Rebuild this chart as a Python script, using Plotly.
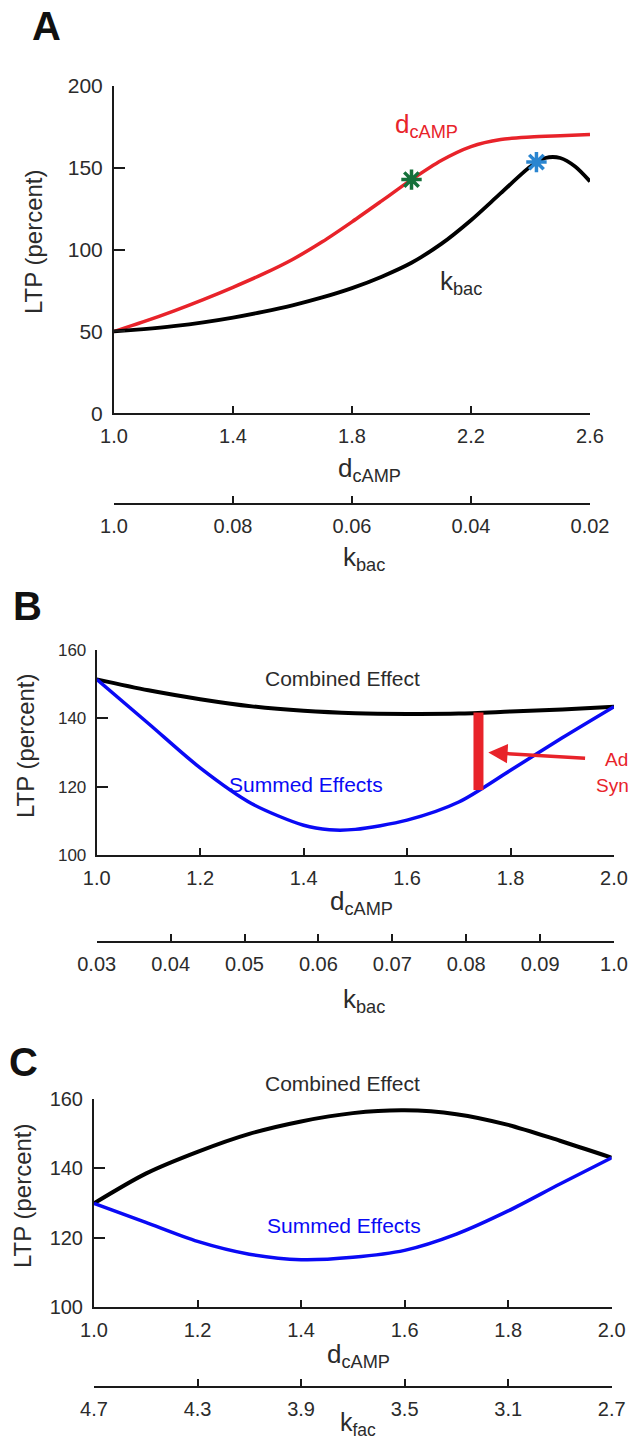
import plotly.graph_objects as go

W, H = 628, 1441
FONT = "Liberation Sans, Arial, sans-serif"
RED = "#e8232a"
BLUE = "#0a0af5"
TXT = "#2b2b2b"

# ---------------- data ----------------
# Panel A: LTP vs d_cAMP (red) and vs k_bac (black)
a_dcamp = [1.0, 1.1, 1.2, 1.3, 1.4, 1.5, 1.6, 1.7, 1.8, 1.9, 2.0, 2.1, 2.2, 2.3, 2.4, 2.5, 2.6]
a_ltp_dcamp = [50, 56, 62.5, 69.5, 77, 85, 94, 104.8, 117, 129.8, 142.8, 154.5, 163, 167.3, 168.8, 169.6, 170.3]
a_kbac = [0.100, 0.095, 0.090, 0.085, 0.080, 0.075, 0.070, 0.065, 0.060, 0.055, 0.050, 0.045,
          0.040, 0.035, 0.030, 0.0275, 0.025, 0.0225, 0.020]
a_ltp_kbac = [50, 51.5, 53.3, 55.6, 58.5, 62, 66, 70.8, 76.5, 83.5, 92, 103.5,
              118, 134.5, 150.8, 156, 156, 150.8, 141.7]
a_star_green = (2.0, 142.8)
a_star_blue = (0.029, 153.5)
a_x_ticks = [1.0, 1.4, 1.8, 2.2, 2.6]
a_y_ticks = [0, 50, 100, 150, 200]
a_kbac_ticks = [0.10, 0.08, 0.06, 0.04, 0.02]
a_kbac_labels = ["1.0", "0.08", "0.06", "0.04", "0.02"]

# Panel B
b_dcamp_comb = [1.0, 1.1, 1.2, 1.3, 1.4, 1.5, 1.6, 1.7, 1.8, 1.9, 2.0]
b_combined = [151.4, 148.2, 145.6, 143.5, 142.2, 141.5, 141.3, 141.4, 142.0, 142.6, 143.4]
b_dcamp_sum = [1.0, 1.1, 1.2, 1.3, 1.4, 1.45, 1.5, 1.6, 1.7, 1.8, 1.9, 2.0]
b_summed = [151.4, 138.5, 125.5, 115, 108.7, 107.4, 107.5, 110.2, 115.5, 124.8, 134.3, 143.4]
b_synergy_x = 1.738
b_synergy_range = (141.7, 119.0)
b_x_ticks = [1.0, 1.2, 1.4, 1.6, 1.8, 2.0]
b_y_ticks = [100, 120, 140, 160]
b_kbac_ticks = [0.03, 0.04, 0.05, 0.06, 0.07, 0.08, 0.09, 0.10]
b_kbac_labels = ["0.03", "0.04", "0.05", "0.06", "0.07", "0.08", "0.09", "1.0"]

# Panel C
c_dcamp = [1.0, 1.1, 1.2, 1.3, 1.4, 1.5, 1.6, 1.7, 1.8, 1.9, 2.0]
c_combined = [129.9, 138.5, 144.8, 150, 153.6, 156, 156.8, 155.7, 152.6, 148, 143.1]
c_dcamp_sum = [1.0, 1.1, 1.2, 1.3, 1.4, 1.5, 1.6, 1.7, 1.8, 1.9, 2.0]
c_summed = [129.9, 124.4, 118.9, 115.2, 113.6, 114.3, 116.3, 121, 127.7, 135.5, 143.1]
c_x_ticks = [1.0, 1.2, 1.4, 1.6, 1.8, 2.0]
c_y_ticks = [100, 120, 140, 160]
c_kfac_ticks = [4.7, 4.3, 3.9, 3.5, 3.1, 2.7]


def X(px):
    return px / W


def Y(py):
    return 1 - py / H


fig = go.Figure()
SPL = dict(shape="spline", smoothing=0.8)

# ---- Panel A traces
fig.add_trace(go.Scatter(x=a_dcamp, y=a_ltp_dcamp, mode="lines", line=dict(color=RED, width=3.5, **SPL),
                         xaxis="x", yaxis="y"))
fig.add_trace(go.Scatter(x=a_kbac, y=a_ltp_kbac, mode="lines", line=dict(color="black", width=3.8, **SPL),
                         xaxis="x2", yaxis="y"))
fig.add_trace(go.Scatter(x=[a_star_green[0]], y=[a_star_green[1]], mode="markers",
                         marker=dict(symbol="asterisk-open", size=17, color="#14703a",
                                     line=dict(color="#14703a", width=3.5)),
                         xaxis="x", yaxis="y"))
fig.add_trace(go.Scatter(x=[a_star_blue[0]], y=[a_star_blue[1]], mode="markers",
                         marker=dict(symbol="asterisk-open", size=17, color="#2a85d0",
                                     line=dict(color="#2a85d0", width=3.5)),
                         xaxis="x2", yaxis="y"))

# ---- Panel B traces
fig.add_trace(go.Scatter(x=b_dcamp_comb, y=b_combined, mode="lines", line=dict(color="black", width=4, **SPL),
                         xaxis="x3", yaxis="y3"))
fig.add_trace(go.Scatter(x=b_dcamp_sum, y=b_summed, mode="lines", line=dict(color=BLUE, width=3.5, **SPL),
                         xaxis="x3", yaxis="y3"))
fig.add_trace(go.Scatter(x=[b_synergy_x, b_synergy_x], y=list(b_synergy_range), mode="lines",
                         line=dict(color=RED, width=10), xaxis="x3", yaxis="y3"))

# ---- Panel C traces
fig.add_trace(go.Scatter(x=c_dcamp, y=c_combined, mode="lines", line=dict(color="black", width=4, **SPL),
                         xaxis="x5", yaxis="y5"))
fig.add_trace(go.Scatter(x=c_dcamp_sum, y=c_summed, mode="lines", line=dict(color=BLUE, width=3.5, **SPL),
                         xaxis="x5", yaxis="y5"))

# invisible traces so that the k axes of panels B and C are drawn
fig.add_trace(go.Scatter(x=[b_kbac_ticks[0]], y=[None], xaxis="x4", yaxis="y3", showlegend=False))
fig.add_trace(go.Scatter(x=[c_kfac_ticks[0]], y=[None], xaxis="x6", yaxis="y5", showlegend=False))


def xax(domain, rng, tickvals, ticktext=None, size=20, standoff=4, **kw):
    d = dict(domain=domain, range=rng, tickvals=tickvals, showline=True, linecolor="#1a1a1a", linewidth=2,
             ticks="inside", ticklen=7, tickwidth=2, tickcolor="#1a1a1a", showgrid=False, zeroline=False,
             tickfont=dict(family=FONT, size=size, color=TXT), ticklabelstandoff=standoff, fixedrange=True,
             automargin=False)
    if ticktext is not None:
        d["ticktext"] = ticktext
    else:
        d["tickformat"] = ".1f"
    d.update(kw)
    return d


def yax(domain, rng, tickvals, size=20, **kw):
    d = dict(domain=domain, range=rng, tickvals=tickvals, showline=True, linecolor="#1a1a1a", linewidth=2,
             ticks="inside", ticklen=11, tickwidth=2, tickcolor="#1a1a1a", showgrid=False, zeroline=False,
             tickfont=dict(family=FONT, size=size, color=TXT), ticklabelstandoff=5, fixedrange=True,
             automargin=False)
    d.update(kw)
    return d


A_dom_x = [X(114), X(590)]
B_dom_x = [X(96.7), X(614)]
C_dom_x = [X(94), X(611.7)]

fig.update_layout(
    xaxis=xax(A_dom_x, [1.0, 2.6], a_x_ticks, anchor="y"),
    yaxis=yax([Y(413.3), Y(86)], [0, 200], a_y_ticks, size=21, anchor="x"),
    xaxis2=xax(A_dom_x, [0.10, 0.02], a_kbac_ticks, a_kbac_labels, overlaying="x", anchor="free",
               position=Y(504), side="bottom"),
    xaxis3=xax(B_dom_x, [1.0, 2.0], b_x_ticks, anchor="y3"),
    yaxis3=yax([Y(855), Y(650)], [100, 160], b_y_ticks, size=17, anchor="x3"),
    xaxis4=xax(B_dom_x, [0.03, 0.10], b_kbac_ticks, b_kbac_labels, overlaying="x3", anchor="free",
               position=Y(941.7), side="bottom"),
    xaxis5=xax(C_dom_x, [1.0, 2.0], c_x_ticks, anchor="y5"),
    yaxis5=yax([Y(1306.7), Y(1099.3)], [100, 160], c_y_ticks, size=20, anchor="x5"),
    xaxis6=xax(C_dom_x, [4.7, 2.7], c_kfac_ticks, [f"{v:.1f}" for v in c_kfac_ticks], overlaying="x5",
               anchor="free", position=Y(1386.7), side="bottom"),
)

ann = []


def txt(x, y, s, size, color=TXT, bold=False, angle=0, xanchor="center", yanchor="middle"):
    ann.append(dict(x=X(x), y=Y(y), xref="paper", yref="paper", text=f"<b>{s}</b>" if bold else s,
                    showarrow=False, font=dict(family=FONT, size=size, color=color), textangle=angle,
                    xanchor=xanchor, yanchor=yanchor))


# panel letters
txt(46, 26, "A", 40, "#111", bold=True)
txt(27, 606, "B", 40, "#111", bold=True)
txt(23, 1062, "C", 40, "#111", bold=True)

# y titles
txt(33, 242, "LTP (percent)", 24, angle=-90)
txt(26, 746, "LTP (percent)", 24, angle=-90)
txt(22, 1196, "LTP (percent)", 24, angle=-90)

# panel A titles / labels
txt(369, 470, "d<sub>cAMP</sub>", 26)
txt(364, 558, "k<sub>bac</sub>", 26)
txt(426, 126, "d<sub>cAMP</sub>", 26, color=RED)
txt(461, 283, "k<sub>bac</sub>", 26)

# panel B
txt(342, 678, "Combined Effect", 21)
txt(306, 785, "Summed Effects", 21, color=BLUE)
txt(361, 902, "d<sub>cAMP</sub>", 26)
txt(364, 1000, "k<sub>bac</sub>", 26)
txt(603, 759, "Ad", 19, color=RED, xanchor="left")
txt(594, 786, "Syn", 19, color=RED, xanchor="left")
ann.append(dict(x=1.757, y=130.0, ax=1.947, ay=128.3, xref="x3", yref="y3", axref="x3", ayref="y3",
                showarrow=True, arrowhead=2, arrowsize=1.1, arrowwidth=3.5, arrowcolor=RED, text=""))

# panel C
txt(342, 1083, "Combined Effect", 21)
txt(344, 1225, "Summed Effects", 21, color=BLUE)
txt(358, 1355, "d<sub>cAMP</sub>", 26)
txt(358, 1424, "k<sub>fac</sub>", 25)

fig.update_layout(
    annotations=ann,
    width=W, height=H,
    margin=dict(l=0, r=0, t=0, b=0, autoexpand=False),
    paper_bgcolor="white", plot_bgcolor="white",
    showlegend=False,
    font=dict(family=FONT, color=TXT),
)

fig.write_html("out.html", config={"displayModeBar": False},
               post_script="document.body.style.margin='0';document.body.style.overflow='hidden';")
